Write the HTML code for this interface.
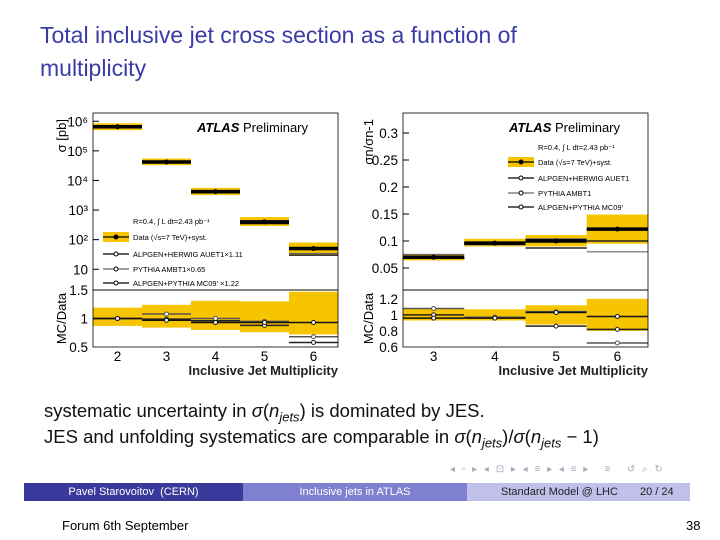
<!DOCTYPE html>
<html><head><meta charset="utf-8"><style>
body{margin:0;width:720px;height:540px;background:#fff;overflow:hidden;font-family:"Liberation Sans",sans-serif;position:relative}
.t{position:absolute;color:#3b3ba6;font-size:23px;left:40px}
.b{position:absolute;left:44px;font-size:18.5px;color:#111}
</style></head><body>
<div class="t" style="top:22px">Total inclusive jet cross section as a function of</div>
<div class="t" style="top:55px">multiplicity</div>
<svg id="s" width="720" height="540" style="position:absolute;left:0;top:0"></svg>
<div class="b" style="top:400px">systematic uncertainty in <i>σ</i>(<i>n<sub style="font-size:13px">jets</sub></i>) is dominated by JES.</div>
<div class="b" style="top:426px">JES and unfolding systematics are comparable in <i>σ</i>(<i>n<sub style="font-size:13px">jets</sub></i>)/<i>σ</i>(<i>n<sub style="font-size:13px">jets</sub></i> − 1)</div>
<div style="position:absolute;left:450px;top:464px;font-size:10px;color:#aab;letter-spacing:2px">◂ ▫ ▸ ◂ ⊡ ▸ ◂ ≡ ▸ ◂ ≡ ▸ &nbsp; ≡ &nbsp; ↺ ⌕ ↻</div>
<div style="position:absolute;left:24px;top:483px;width:219px;height:18px;background:#3a3a9c;color:#fff;font-size:11px;line-height:18px;text-align:center">Pavel Starovoitov &nbsp;(CERN)</div>
<div style="position:absolute;left:243px;top:483px;width:224px;height:18px;background:#8080d0;color:#fff;font-size:11px;line-height:18px;text-align:center">Inclusive jets in ATLAS</div>
<div style="position:absolute;left:467px;top:483px;width:223px;height:18px;background:#c0c0ea;color:#222;font-size:11px;line-height:18px"><span style="margin-left:34px">Standard Model @ LHC</span><span style="margin-left:22px">20 / 24</span></div>
<div style="position:absolute;left:62px;top:518px;font-size:13px">Forum 6th September</div>
<div style="position:absolute;left:686px;top:518px;font-size:13px">38</div>
<script>
const Lcats=[2,3,4,5,6];
const Ldata=[6.5e5,4.2e4,4.2e3,400,50];
const LdataLo=[5.0e5,3.3e4,3.2e3,290,30];
const LdataHi=[8.5e5,5.5e4,5.6e3,580,80];
const Lherwig=[6.5e5,4.2e4,4.0e3,350,30];
const Lpythia=[6.5e5,4.5e4,4.2e3,380,34];
const Lalpy=[6.5e5,4.1e4,3.9e3,370,47];
const LbandLo=[0.87,0.84,0.8,0.76,0.72];
const LbandHi=[1.19,1.24,1.31,1.3,1.47];
const LrHerwig=[1.0,0.99,0.96,0.88,0.58];
const LrPythia=[1.0,1.08,1.0,0.95,0.68];
const LrAlpy=[1.0,0.97,0.93,0.93,0.93];
const Rcats=[3,4,5,6];
const Rdata=[0.07,0.096,0.1,0.122];
const RdataLo=[0.064,0.09,0.09,0.095];
const RdataHi=[0.076,0.104,0.111,0.149];
const Rherwig=[0.068,0.095,0.087,0.1];
const Rpythia=[0.075,0.093,0.104,0.08];
const Ralpy=[0.068,0.096,0.102,0.121];
const RbandLo=[0.93,0.93,0.88,0.8];
const RbandHi=[1.08,1.07,1.12,1.2];
const RrHerwig=[1.0,0.97,0.86,0.82];
const RrPythia=[1.08,0.97,1.04,0.65];
const RrAlpy=[0.96,0.96,1.03,0.98];
const leftTicks=["10","10²","10³","10⁴","10⁵","10⁶"];
const rightTicks=["0.05","0.1","0.15","0.2","0.25","0.3"];
const NS="http://www.w3.org/2000/svg",s=document.getElementById('s');
function el(t,a,txt){const e=document.createElementNS(NS,t);for(const k in a)e.setAttribute(k,a[k]);if(txt!==undefined)e.textContent=txt;s.appendChild(e);return e;}
const Y='#f7c400';
function plot(p){
 const X=v=>p.x0+(v-p.xmin)/(p.xmax-p.xmin)*(p.x1-p.x0);
 const YT=p.yT, YB=v=>p.yb0+(p.ybmax-v)/(p.ybmax-p.ybmin)*(p.yb1-p.yb0);
 p.cats.forEach((c,i)=>{
  let r=el('rect',{x:X(c-0.5),y:YT(p.hi[i]),width:X(c+0.5)-X(c-0.5),height:YT(p.lo[i])-YT(p.hi[i]),fill:Y});
  
  r=el('rect',{x:X(c-0.5),y:YB(p.bhi[i]),width:X(c+0.5)-X(c-0.5),height:YB(p.blo[i])-YB(p.bhi[i]),fill:Y});
  
  [[p.h,'#222',1.5,'herwig-line'],[p.py,'#666',1.2,'pythia-line'],[p.ap,'#111',1.5,'alpgen-pythia-line'],[p.dat,'#000',3.5,'data-line']].forEach(([arr,col,w,n])=>{
   const l=el('line',{x1:X(c-0.5),x2:X(c+0.5),y1:YT(arr[i]),y2:YT(arr[i]),stroke:col,'stroke-width':w});
   
  });
  const d=el('circle',{cx:X(c),cy:YT(p.dat[i]),r:2.5,fill:'#000'});
  
  [[p.rh,'#222','herwig-ratio'],[p.rp,'#555','pythia-ratio'],[p.ra,'#111','alpgen-pythia-ratio']].forEach(([arr,col,n])=>{
   const l=el('line',{x1:X(c-0.5),x2:X(c+0.5),y1:YB(arr[i]),y2:YB(arr[i]),stroke:col,'stroke-width':1.5});
   
   const m=el('circle',{cx:X(c),cy:YB(arr[i]),r:2,fill:'#fff',stroke:col});
   
  });
 });
 el('rect',{x:p.x0,y:p.y0,width:p.x1-p.x0,height:p.ym-p.y0,fill:'none',stroke:'#000','stroke-width':0.8});
 el('rect',{x:p.x0,y:p.ym,width:p.x1-p.x0,height:p.yb1-p.ym,fill:'none',stroke:'#000','stroke-width':0.8});
 p.cats.forEach(c=>{const t=el('text',{x:X(c),y:p.yb1+14,'font-size':13.5,'text-anchor':'middle'},c);});
 p.ticks.forEach((t,i)=>{const yy=YT(p.tv[i]);el('line',{x1:p.x0,x2:p.x0+6,y1:yy,y2:yy,stroke:'#000'});const e=el('text',{x:p.x0-5,y:yy+5,'font-size':13.5,'text-anchor':'end'},t);});
 p.bt.forEach(v=>{const yy=YB(v);const e=el('text',{x:p.x0-5,y:yy+5,'font-size':13.5,'text-anchor':'end'},String(v));});
 let e=el('text',{x:p.x1,y:p.yb1+28,'font-size':13,'font-weight':'bold','fill':'#222','text-anchor':'end'},'Inclusive Jet Multiplicity');
 e=el('text',{x:0,y:0,'font-size':13,'text-anchor':'end',transform:`translate(${p.x0-p.yo},${p.y0+6}) rotate(-90)`},p.ylab);
 e=el('text',{x:0,y:0,'font-size':13,'text-anchor':'middle',transform:`translate(${p.x0-p.yo},${(p.ym+p.yb1)/2}) rotate(-90)`},'MC/Data');
 e=el('text',{x:p.ax,y:132,'font-size':13},'');e.innerHTML='<tspan font-weight="bold" font-style="italic">ATLAS</tspan>  Preliminary';
 const L=p.leg;
 e=el('text',{x:L.x,y:L.ys[0],'font-size':7.5},'R=0.4, ∫ L dt=2.43 pb⁻¹');
 const names=['Data (√s=7 TeV)+syst.',p.n1,p.n2,p.n3];
 names.forEach((n,i)=>{const yy=L.ys[i+1];
  if(i==0)el('rect',{x:L.x-30,y:yy-8,width:26,height:10,fill:Y});
  el('line',{x1:L.x-30,x2:L.x-4,y1:yy-3,y2:yy-3,stroke:i==2?'#666':'#000','stroke-width':1.3});
  el('circle',{cx:L.x-17,cy:yy-3,r:2,fill:i==0?'#000':'#fff',stroke:'#000'});
  const t=el('text',{x:L.x,y:yy,'font-size':7.5},n);});
}
const lg=v=>113+(Math.log10(1.9e6)-Math.log10(v))*29.6;
plot({x0:93,x1:338,xmin:1.5,xmax:6.5,y0:113,ym:290,yb0:290,yb1:347,ybmin:0.5,ybmax:1.5,yT:lg,yo:27,
 cats:Lcats,dat:Ldata,lo:LdataLo,hi:LdataHi,h:Lherwig,py:Lpythia,ap:Lalpy,blo:LbandLo,bhi:LbandHi,rh:LrHerwig,rp:LrPythia,ra:LrAlpy,
 ticks:leftTicks,tv:[10,100,1e3,1e4,1e5,1e6],bt:[0.5,1,1.5],ylab:'σ [pb]',ax:197,
 leg:{x:133,ys:[224,240,257,272,286]},n1:'ALPGEN+HERWIG AUET1×1.11',n2:'PYTHIA AMBT1×0.65',n3:"ALPGEN+PYTHIA MC09' ×1.22"});
plot({x0:403,x1:648,xmin:2.5,xmax:6.5,y0:113,ym:290,yb0:290,yb1:347,ybmin:0.6,ybmax:1.31,yT:v=>133+(0.3-v)/0.05*27,yo:30,
 cats:Rcats,dat:Rdata,lo:RdataLo,hi:RdataHi,h:Rherwig,py:Rpythia,ap:Ralpy,blo:RbandLo,bhi:RbandHi,rh:RrHerwig,rp:RrPythia,ra:RrAlpy,
 ticks:rightTicks,tv:[0.05,0.1,0.15,0.2,0.25,0.3],bt:[0.6,0.8,1,1.2],ylab:'σn/σn-1',ax:509,
 leg:{x:538,ys:[150,165,181,196,210]},n1:'ALPGEN+HERWIG AUET1',n2:'PYTHIA AMBT1',n3:"ALPGEN+PYTHIA MC09'"});
</script>
</body></html>
